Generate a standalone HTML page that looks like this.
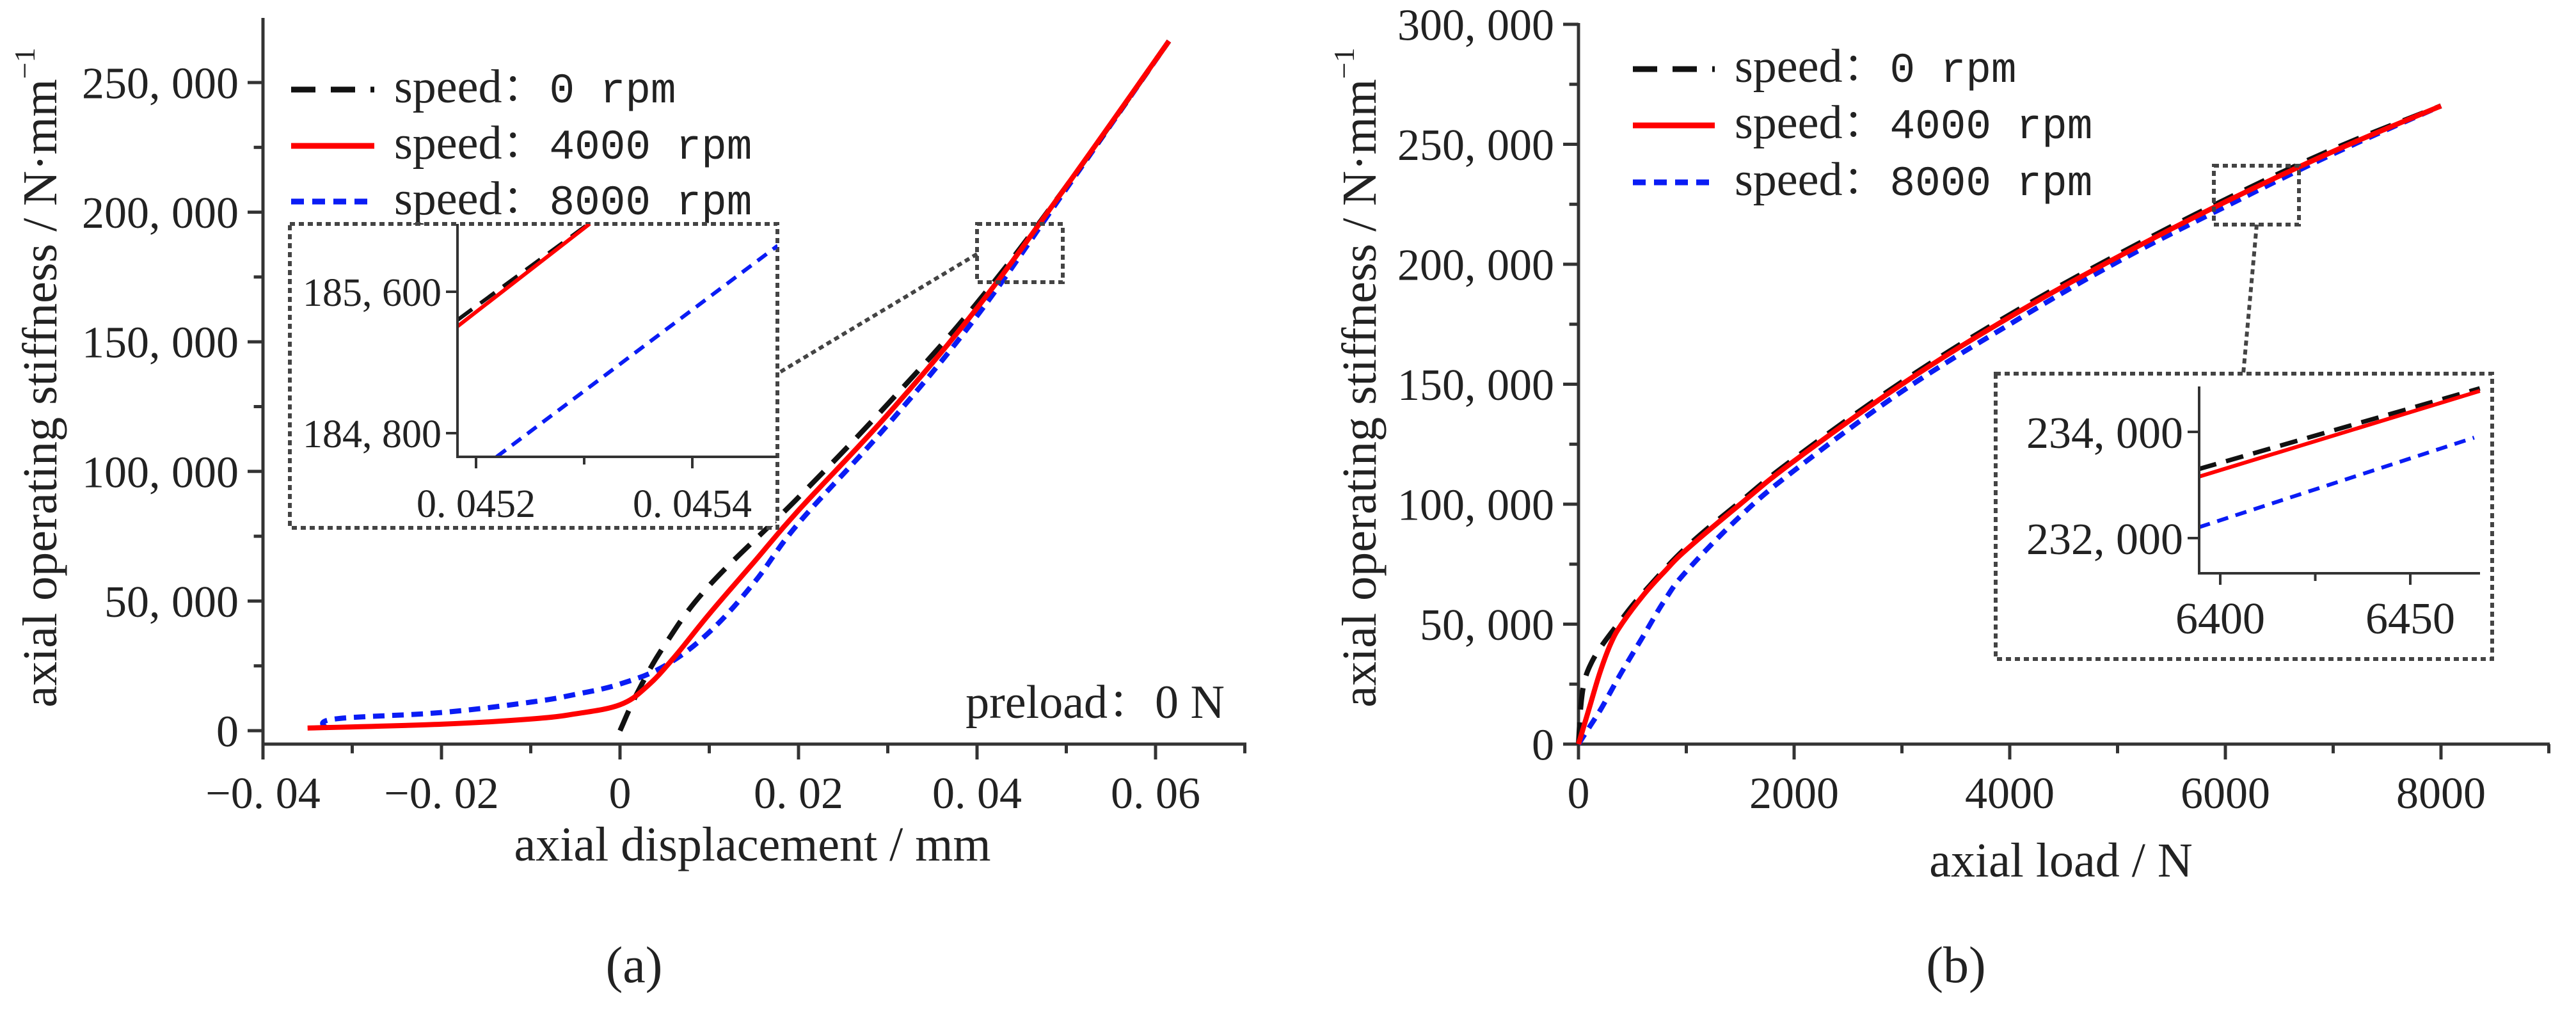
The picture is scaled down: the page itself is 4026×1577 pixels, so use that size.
<!DOCTYPE html>
<html><head><meta charset="utf-8"><style>
html,body{margin:0;padding:0;background:#fff}
svg{display:block}
text{font-family:"Liberation Serif","Noto Serif CJK SC",serif;fill:#222}
</style></head><body>
<svg id="fig" width="4026" height="1577" viewBox="0 0 4026 1577">
<g id="pa"></g>
<g id="pb"></g>
</svg>
<script>
// ---- Panel (a) data ----
const aBlackX=[0,0.002,0.005,0.01,0.02,0.03,0.04,0.05,0.0615];
const aBlackY=[0,15000,33000,56000,90000,126000,165000,210000,266000];
const aRedX=[-0.035,-0.02,-0.01,-0.005,0,0.003,0.006,0.01,0.015,0.02,0.03,0.04,0.05,0.0615];
const aRedY=[1000,2500,4500,6500,10000,17000,28000,45000,65000,85000,122000,163000,210000,266000];
const aBlueX=[-0.033,-0.032,-0.02,-0.01,-0.005,0,0.005,0.01,0.015,0.02,0.03,0.04,0.05,0.0615];
const aBlueY=[1000,4500,7000,11000,14000,18000,25000,38000,57000,80000,118000,160000,209000,266000];
const aXTicks=[-0.04,-0.02,0,0.02,0.04,0.06];
const aXTickLabels=["−0. 04","−0. 02","0","0. 02","0. 04","0. 06"];
const aYTicks=[0,50000,100000,150000,200000,250000];
const aYTickLabels=["0","50, 000","100, 000","150, 000","200, 000","250, 000"];
// inset (a)
const aiBlackX=[0.045183,0.045304];const aiBlackY=[185441,185984];
const aiRedX=[0.045183,0.045305];const aiRedY=[185405,185984];
const aiBlueX=[0.045219,0.045479];const aiBlueY=[184666,185861];
const aiXTicks=[0.0452,0.0454];const aiXTickLabels=["0. 0452","0. 0454"];
const aiYTicks=[184800,185600];const aiYTickLabels=["184, 800","185, 600"];
// ---- Panel (b) data ----
const bBlackX=[0,20,50,100,200,400,600,1000,1500,2000,3000,4000,5000,6000,7000,8000];
const bBlackY=[0,15000,25000,32000,40000,52000,63000,82000,101000,119000,151000,179000,204000,227000,248000,266000];
const bRedX=[0,100,200,300,400,600,800,1000,1500,2000,3000,4000,5000,6000,7000,8000];
const bRedY=[0,15000,30000,42000,50000,62000,72000,81000,100000,118000,150000,178000,203000,226000,247000,266000];
const bBlueX=[0,100,200,300,400,600,800,1000,1500,2000,3000,4000,5000,6000,7000,8000];
const bBlueY=[0,7000,14000,22000,30000,45000,60000,72000,95000,114000,147000,175000,201000,224000,246000,266000];
const bXTicks=[0,2000,4000,6000,8000];
const bXTickLabels=["0","2000","4000","6000","8000"];
const bYTicks=[0,50000,100000,150000,200000,250000,300000];
const bYTickLabels=["0","50, 000","100, 000","150, 000","200, 000","250, 000","300, 000"];
const biBlackX=[6394.4,6468.3];const biBlackY=[233301,234819];
const biRedX=[6394.4,6468.3];const biRedY=[233157,234771];
const biBlueX=[6394.4,6466.8];const biBlueY=[232205,233892];
const biXTicks=[6400,6450];const biXTickLabels=["6400","6450"];
const biYTicks=[232000,234000];const biYTickLabels=["232, 000","234, 000"];
const legendLabels=["speed：0 rpm","speed：4000 rpm","speed：8000 rpm"];

const NS="http://www.w3.org/2000/svg";
function mk(parent,tag,attrs,txt){const e=document.createElementNS(NS,tag);for(const k in attrs)e.setAttribute(k,attrs[k]);if(txt!=null)e.textContent=txt;parent.appendChild(e);return e;}
const STY={black:{stroke:"#111",dash:"34 20",w:8},red:{stroke:"#f00",dash:"none",w:8},blue:{stroke:"#0a1cf5",dash:"18 12",w:8}};
function smoothPath(pts){
  if(pts.length<3)return pts.map((p,i)=>(i?"L":"M")+p[0].toFixed(1)+","+p[1].toFixed(1)).join(" ");
  let d="M"+pts[0][0].toFixed(1)+","+pts[0][1].toFixed(1);
  for(let i=0;i<pts.length-1;i++){
    const p0=pts[Math.max(0,i-1)],p1=pts[i],p2=pts[i+1],p3=pts[Math.min(pts.length-1,i+2)];
    const t=0.18;
    const c1=[p1[0]+(p2[0]-p0[0])*t,p1[1]+(p2[1]-p0[1])*t];
    const c2=[p2[0]-(p3[0]-p1[0])*t,p2[1]-(p3[1]-p1[1])*t];
    d+=` C${c1[0].toFixed(1)},${c1[1].toFixed(1)} ${c2[0].toFixed(1)},${c2[1].toFixed(1)} ${p2[0].toFixed(1)},${p2[1].toFixed(1)}`;
  }
  return d;
}
function line(g,xs,ys,fx,fy,st,name){
  const d=smoothPath(xs.map((x,i)=>[fx(x),fy(ys[i])]));
  const p=mk(g,"path",{d:d,fill:"none",stroke:st.stroke,"stroke-width":st.w,"stroke-dasharray":st.dash,"stroke-linejoin":"round"});
  
  
}
function axes(g,o){
  const a=mk(g,"path",{d:`M${o.x0},${o.yTop} L${o.x0},${o.yBot} M${o.x0},${o.yBot} L${o.xEnd},${o.yBot}`,stroke:"#333","stroke-width":5,fill:"none"});
  
  
  o.xt.forEach((v,i)=>{const x=o.fx(v);
    mk(g,"line",{x1:x,y1:o.yBot,x2:x,y2:o.yBot+o.tl,stroke:"#333","stroke-width":5});
    const t=mk(g,"text",{x:x,y:o.yBot+o.xlOff,"font-size":o.fs,"text-anchor":"middle"},o.xl[i]);
    
    
    if(i<o.xt.length-1&&o.minor){const xm=o.fx((v+o.xt[i+1])/2);mk(g,"line",{x1:xm,y1:o.yBot,x2:xm,y2:o.yBot+o.tl*0.6,stroke:"#333","stroke-width":5});}
  });
  if(o.minor){const step=o.xt[1]-o.xt[0];let v=o.xt[o.xt.length-1]+step/2;while(o.fx(v)<o.xEnd){const xm=o.fx(v);mk(g,"line",{x1:xm,y1:o.yBot,x2:xm,y2:o.yBot+o.tl*0.6,stroke:"#333","stroke-width":5});v+=step/2;}}
  o.yt.forEach((v,i)=>{const y=o.fy(v);
    mk(g,"line",{x1:o.x0-o.tl,y1:y,x2:o.x0,y2:y,stroke:"#333","stroke-width":5});
    const t=mk(g,"text",{x:o.x0-o.ylOff,y:y+o.fs*0.35,"font-size":o.fs,"text-anchor":"end"},o.yl[i]);
    
    
    if(o.minor&&i<o.yt.length-1){const ym=o.fy((v+o.yt[i+1])/2);mk(g,"line",{x1:o.x0-o.tl*0.6,y1:ym,x2:o.x0,y2:ym,stroke:"#333","stroke-width":5});}
  });
}
function legend(g,x1,x2,tx,ys,pre){
  ["black","red","blue"].forEach((k,i)=>{const st=STY[k];
    const l=mk(g,"line",{x1:x1,y1:ys[i]-20,x2:x2,y2:ys[i]-20,stroke:st.stroke,"stroke-width":9,"stroke-dasharray":k=="black"?"38 24":(k=="blue"?"20 13":"none")});
    
    
    const parts=legendLabels[i].split("：");
    const t=mk(g,"text",{x:tx,y:ys[i],"font-size":74});
    
    
    mk(t,"tspan",{},parts[0]);
    mk(t,"tspan",{"font-family":"Noto Serif CJK SC, serif"},"：");
    mk(t,"tspan",{"font-family":"Liberation Mono, monospace","font-size":66,fill:"#222"},parts[1]);
  });
}
function dotRect(g,x,y,w,h,name){const r=mk(g,"rect",{x:x,y:y,width:w,height:h,fill:"none",stroke:"#444","stroke-width":6,"stroke-dasharray":"8 6"});}
function dotLine(g,x1,y1,x2,y2,name){const r=mk(g,"line",{x1:x1,y1:y1,x2:x2,y2:y2,stroke:"#444","stroke-width":6,"stroke-dasharray":"8 6"});}

// ===== Panel (a) =====
(function(){
  const g=document.getElementById("pa");
  const fx=d=>969+d/0.02*279, fy=v=>1142-v/50000*202.6;
  axes(g,{pre:"a-",x0:411,yTop:28,yBot:1163,xEnd:1948,fx:fx,fy:fy,xt:aXTicks,xl:aXTickLabels,yt:aYTicks,yl:aYTickLabels,tl:24,fs:70,xlOff:100,ylOff:38,minor:true});
  line(g,aBlueX,aBlueY,fx,fy,STY.blue,"a-series-8000rpm");
  line(g,aBlackX,aBlackY,fx,fy,STY.black,"a-series-0rpm");
  line(g,aRedX,aRedY,fx,fy,STY.red,"a-series-4000rpm");
  legend(g,455,585,616,[160,248,335],"a-");
  const yl=mk(g,"text",{transform:"translate(88,590) rotate(-90)","font-size":76,"text-anchor":"middle"},"axial operating stiffness / N·mm");
  
  mk(yl,"tspan",{dy:-34,"font-size":46},"−1");
  const xl=mk(g,"text",{x:1176,y:1345,"font-size":76,"text-anchor":"middle"},"axial displacement / mm");
  
  const pl=mk(g,"text",{x:1914,y:1122,"font-size":74,"text-anchor":"end"},"preload：0 N");
  
  const cap=mk(g,"text",{x:991,y:1535,"font-size":80,"text-anchor":"middle"},"(a)");
  
  dotRect(g,1527,350,134,91,"a-zoom-box");
  dotLine(g,1527,397,1215,584,"a-zoom-connector");
  const ig=mk(g,"g",{});
  mk(ig,"rect",{x:456,y:353,width:756,height:469,fill:"#fff"});
  dotRect(ig,453,350,762,475,"a-inset-frame");
  const ifx=d=>744+(d-0.0452)/0.0002*338, ify=v=>456-(v-185600)/800*221;
  const cp=mk(ig,"clipPath",{id:"ca"});mk(cp,"rect",{x:715,y:350,width:500,height:364});
  const lg=mk(ig,"g",{"clip-path":"url(#ca)"});
  line(lg,aiBlueX,aiBlueY,ifx,ify,{stroke:"#0a1cf5",dash:"18 12",w:6},"a-inset-8000rpm");
  line(lg,aiBlackX,aiBlackY,ifx,ify,{stroke:"#111",dash:"28 16",w:6},"a-inset-0rpm");
  line(lg,aiRedX,aiRedY,ifx,ify,{stroke:"#f00",dash:"none",w:6},"a-inset-4000rpm");
  mk(ig,"path",{d:"M715,350 L715,714 L1215,714",stroke:"#333","stroke-width":4,fill:"none"});
  aiXTicks.forEach((v,i)=>{const x=ifx(v);mk(ig,"line",{x1:x,y1:714,x2:x,y2:732,stroke:"#333","stroke-width":4});
    const t=mk(ig,"text",{x:x,y:808,"font-size":62,"text-anchor":"middle"},aiXTickLabels[i]);});
  mk(ig,"line",{x1:ifx(0.0453),y1:714,x2:ifx(0.0453),y2:726,stroke:"#333","stroke-width":4});
  aiYTicks.forEach((v,i)=>{const y=ify(v);mk(ig,"line",{x1:697,y1:y,x2:715,y2:y,stroke:"#333","stroke-width":4});
    const t=mk(ig,"text",{x:690,y:y+22,"font-size":62,"text-anchor":"end"},aiYTickLabels[i]);});
})();

// ===== Panel (b) =====
(function(){
  const g=document.getElementById("pb");
  const fx=L=>2467+L/2000*337, fy=v=>1163-v/50000*187.5;
  axes(g,{pre:"b-",x0:2467,yTop:36,yBot:1163,xEnd:3985,fx:fx,fy:fy,xt:bXTicks,xl:bXTickLabels,yt:bYTicks,yl:bYTickLabels,tl:24,fs:70,xlOff:100,ylOff:38,minor:true});
  line(g,bBlueX,bBlueY,fx,fy,STY.blue,"b-series-8000rpm");
  line(g,bBlackX,bBlackY,fx,fy,STY.black,"b-series-0rpm");
  line(g,bRedX,bRedY,fx,fy,STY.red,"b-series-4000rpm");
  legend(g,2552,2680,2711,[128,216,305],"b-");
  const yl=mk(g,"text",{transform:"translate(2150,590) rotate(-90)","font-size":76,"text-anchor":"middle"},"axial operating stiffness / N·mm");
  
  mk(yl,"tspan",{dy:-34,"font-size":46},"−1");
  const xl=mk(g,"text",{x:3221,y:1370,"font-size":76,"text-anchor":"middle"},"axial load / N");
  
  const cap=mk(g,"text",{x:3057,y:1535,"font-size":80,"text-anchor":"middle"},"(b)");
  
  dotRect(g,3460,259,133,92,"b-zoom-box");
  dotLine(g,3527,351,3506,584,"b-zoom-connector");
  const ig=mk(g,"g",{});
  mk(ig,"rect",{x:3122,y:587,width:770,height:440,fill:"#fff"});
  dotRect(ig,3119,584,776,446,"b-inset-frame");
  const ifx=L=>3470+(L-6400)/50*297, ify=v=>675+(234000-v)/2000*166;
  const cp=mk(ig,"clipPath",{id:"cb"});mk(cp,"rect",{x:3437,y:595,width:445,height:301});
  const lg=mk(ig,"g",{"clip-path":"url(#cb)"});
  line(lg,biBlueX,biBlueY,ifx,ify,{stroke:"#0a1cf5",dash:"18 12",w:6},"b-inset-8000rpm");
  line(lg,biBlackX,biBlackY,ifx,ify,{stroke:"#111",dash:"28 16",w:7},"b-inset-0rpm");
  line(lg,biRedX,biRedY,ifx,ify,{stroke:"#f00",dash:"none",w:6},"b-inset-4000rpm");
  mk(ig,"path",{d:"M3437,604 L3437,896 L3876,896",stroke:"#333","stroke-width":4,fill:"none"});
  biXTicks.forEach((v,i)=>{const x=ifx(v);mk(ig,"line",{x1:x,y1:896,x2:x,y2:914,stroke:"#333","stroke-width":4});
    const t=mk(ig,"text",{x:x,y:990,"font-size":70,"text-anchor":"middle"},biXTickLabels[i]);});
  mk(ig,"line",{x1:ifx(6425),y1:896,x2:ifx(6425),y2:908,stroke:"#333","stroke-width":4});
  biYTicks.forEach((v,i)=>{const y=ify(v);mk(ig,"line",{x1:3419,y1:y,x2:3437,y2:y,stroke:"#333","stroke-width":4});
    const t=mk(ig,"text",{x:3412,y:y+25,"font-size":70,"text-anchor":"end"},biYTickLabels[i]);});
})();
</script>
</body></html>
